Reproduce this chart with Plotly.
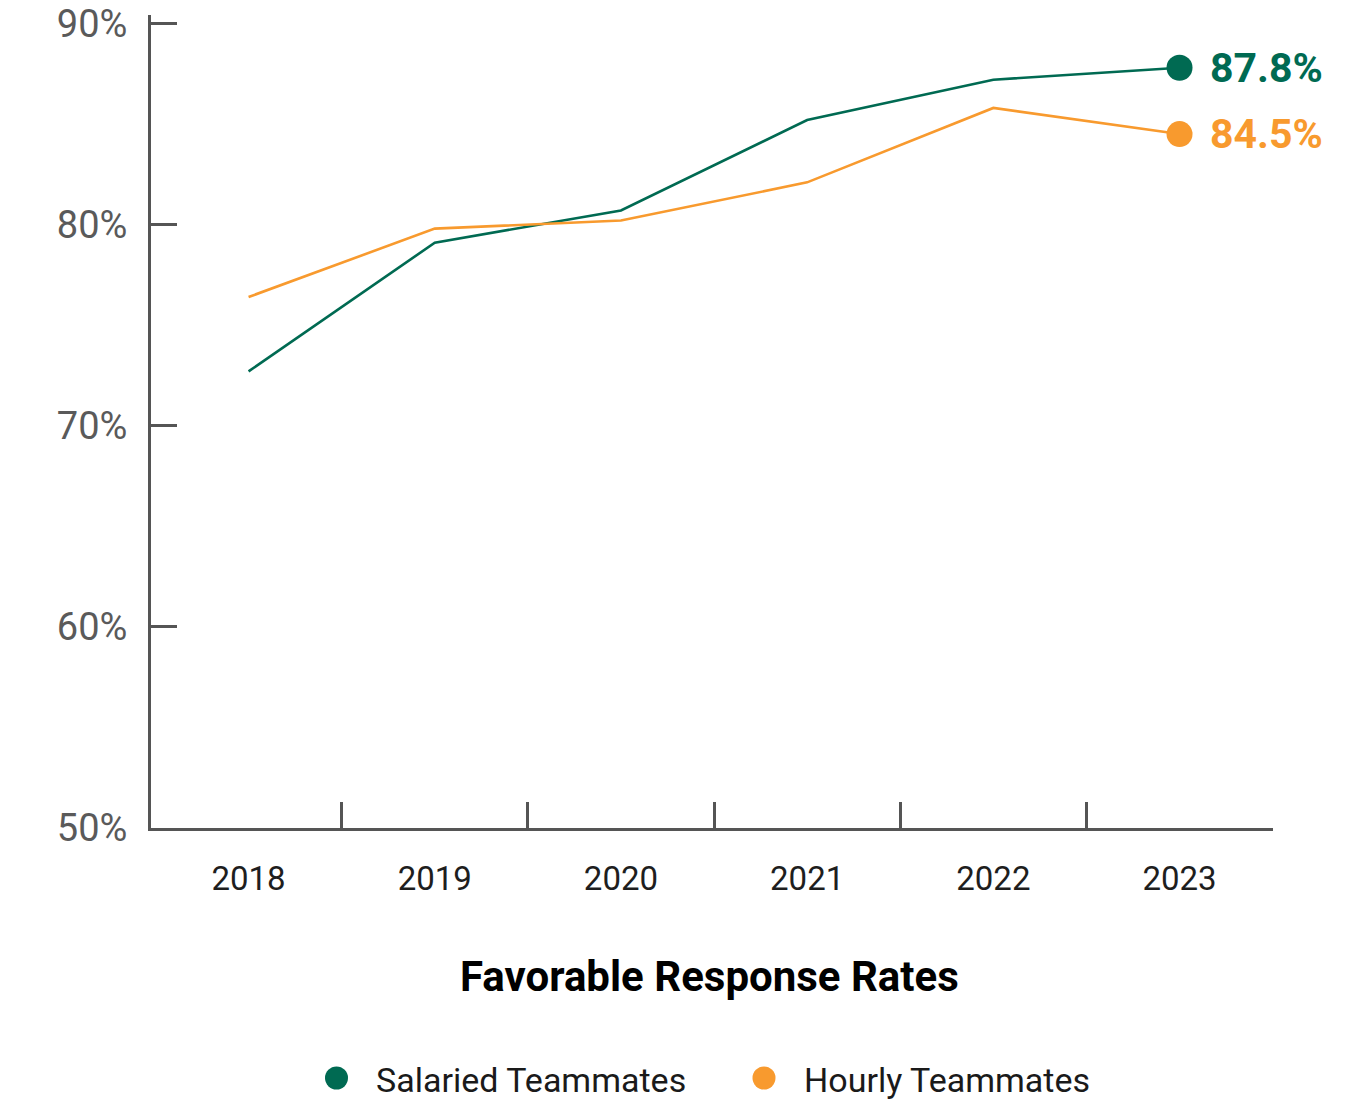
import plotly.graph_objects as go

# Survey results: share of favorable responses by year
years = [2018, 2019, 2020, 2021, 2022, 2023]
salaried = [72.7, 79.1, 80.7, 85.2, 87.2, 87.8]
hourly = [76.4, 79.8, 80.2, 82.1, 85.8, 84.5]
series_names = ["Salaried Teammates", "Hourly Teammates"]
y_ticks = [50, 60, 70, 80, 90]
y_tick_labels = ["50%", "60%", "70%", "80%", "90%"]
chart_title = "Favorable Response Rates"

GREEN = "#006A52"
ORANGE = "#F89A2E"
AXIS = "#555555"

W, H = 1368, 1099
M_L, M_R, M_T, M_B = 151, 95, 15, 271
PLOT_W = W - M_L - M_R
PLOT_H = H - M_T - M_B


def px_x(px):
    """Pixel column -> paper x."""
    return (px - M_L) / PLOT_W


def px_y(py):
    """Pixel row -> paper y."""
    return (H - M_B - py) / PLOT_H


fig = go.Figure()

for name, vals, color in [(series_names[0], salaried, GREEN), (series_names[1], hourly, ORANGE)]:
    fig.add_trace(go.Scatter(
        x=years, y=vals, mode="lines", name=name,
        line=dict(color=color, width=2.6), showlegend=False,
        hoverinfo="skip",
    ))
    # highlighted latest value
    fig.add_trace(go.Scatter(
        x=[years[-1]], y=[vals[-1]], mode="markers", name=name,
        marker=dict(color=color, size=26), showlegend=False,
    ))
    fig.add_annotation(
        x=years[-1], y=vals[-1], xref="x", yref="y",
        text=f"{vals[-1]:.1f}%", showarrow=False,
        xanchor="left", yanchor="middle", xshift=28,
        font=dict(family="Roboto", size=41, color=color, weight="bold"),
    )

# boundaries between year columns carry the inside tick marks
boundaries = [(a + b) / 2 for a, b in zip(years, years[1:])]

fig.update_xaxes(
    range=[2017.476, 2023.502], automargin=False,
    tickmode="array", tickvals=years, ticktext=[str(y) for y in years],
    ticks="", showline=True, linewidth=3, linecolor=AXIS,
    showgrid=False, zeroline=False,
    tickfont=dict(family="Roboto", size=33, color="#1e1e1e"),
    ticklabelstandoff=19,
    minor=dict(tickmode="array", tickvals=boundaries, ticks="inside",
               ticklen=26, tickwidth=3, tickcolor=AXIS, showgrid=False),
)

fig.update_yaxes(
    range=[50, 90.42], automargin=False,
    tickmode="array", tickvals=y_ticks, ticktext=y_tick_labels,
    ticks="inside", ticklen=26, tickwidth=3, tickcolor=AXIS,
    showline=True, linewidth=3, linecolor=AXIS,
    showgrid=False, zeroline=False,
    tickfont=dict(family="Roboto", size=38, color="#5a5a5a"),
    ticklabelstandoff=13,
)

# title under the axis
fig.add_annotation(
    x=px_x(709.5), y=px_y(976), xref="paper", yref="paper",
    text=chart_title, showarrow=False, xanchor="center", yanchor="middle",
    font=dict(family="Roboto", size=42, color="#000000", weight="bold"),
)

# legend row
legend_items = [
    (series_names[0], GREEN, 336.5, 374),
    (series_names[1], ORANGE, 764, 802),
]
for name, color, cx, tx in legend_items:
    fig.add_shape(
        type="circle", xref="paper", yref="paper",
        xsizemode="pixel", ysizemode="pixel",
        xanchor=px_x(cx), yanchor=px_y(1078),
        x0=-11.5, x1=11.5, y0=-11.5, y1=11.5,
        fillcolor=color, line=dict(width=0),
    )
    fig.add_annotation(
        x=px_x(tx), y=px_y(1080), xref="paper", yref="paper",
        text=name, showarrow=False, xanchor="left", yanchor="middle",
        font=dict(family="Roboto", size=34, color="#1a1a1a"),
    )

fig.update_layout(
    width=W, height=H,
    margin=dict(l=M_L, r=M_R, t=M_T, b=M_B, pad=0, autoexpand=False),
    plot_bgcolor="white", paper_bgcolor="white",
    showlegend=False,
)

fig.write_html("out.html")
